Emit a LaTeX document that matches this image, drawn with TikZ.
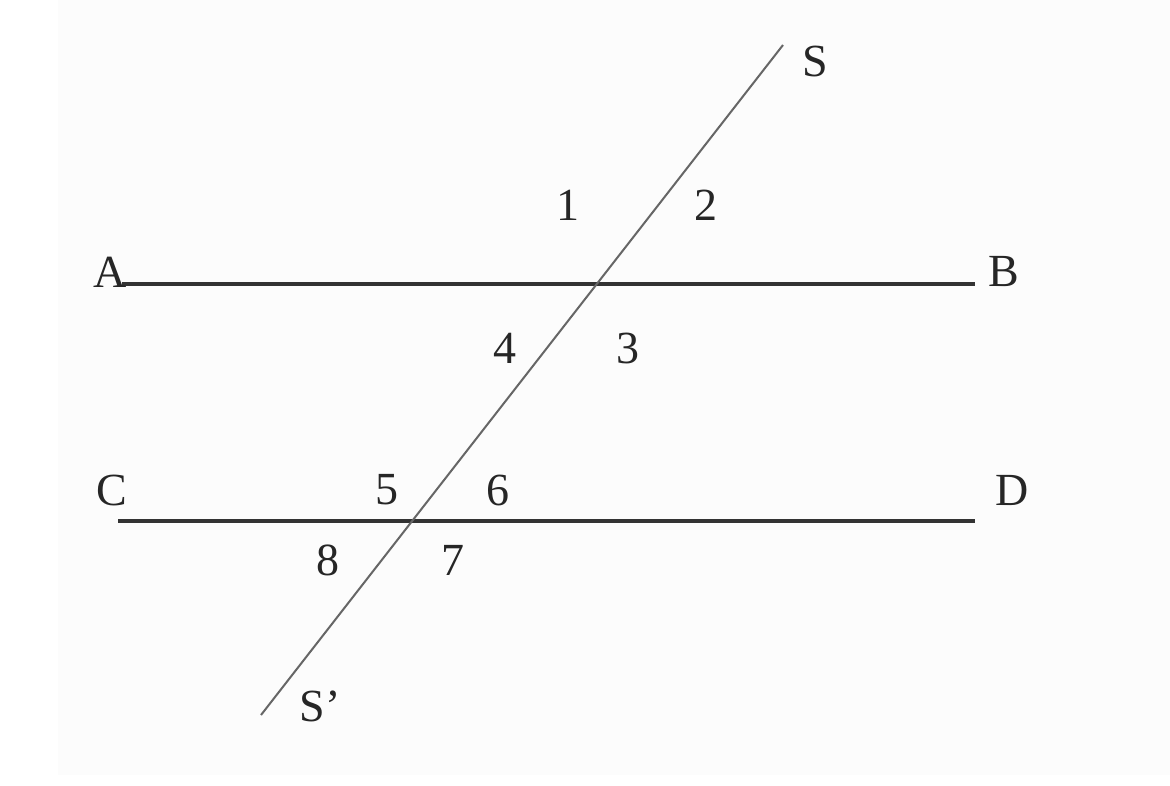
\documentclass[tikz,border=0pt]{standalone}
\usepackage{fontspec}
\setmainfont{Liberation Serif}
\tikzset{
  lbl/.style={inner sep=0pt, font=\fontsize{46}{48}\selectfont, text=black!85},
  parline/.style={line width=3.2pt, draw=black!80},
  trans/.style={line width=2pt, draw=black!60},
}
\begin{document}
\begin{tikzpicture}[x=1pt,y=-1pt]
\useasboundingbox (0,0) rectangle (1170,785);
\fill[white] (0,0) rectangle (1170,785);
\fill[black!1] (58,0) rectangle (1170,775);
\coordinate (a) at (122,284);
\coordinate (b) at (975,284);
\coordinate (c) at (118,521);
\coordinate (d) at (975,521);
\coordinate (s) at (783,45);
\coordinate (sp) at (261,715);
\draw[parline] (a) -- (b);
\draw[parline] (c) -- (d);
\draw[trans] (s) -- (sp);
\node[lbl] (A) at (110,272) {A};
\node[lbl] (B) at (1004,272) {B};
\node[lbl] (C) at (112,490) {C};
\node[lbl] (D) at (1012,490) {D};
\node[lbl] (S) at (815,61) {S};
\node[lbl] (Sp) at (320,706) {S'};
\node[lbl] (n1) at (568,205) {1};
\node[lbl] (n2) at (706,205) {2};
\node[lbl] (n3) at (628,348) {3};
\node[lbl] (n4) at (505,348) {4};
\node[lbl] (n5) at (387,490) {5};
\node[lbl] (n6) at (498,490) {6};
\node[lbl] (n7) at (453,560) {7};
\node[lbl] (n8) at (328,560) {8};
\end{tikzpicture}
\end{document}
